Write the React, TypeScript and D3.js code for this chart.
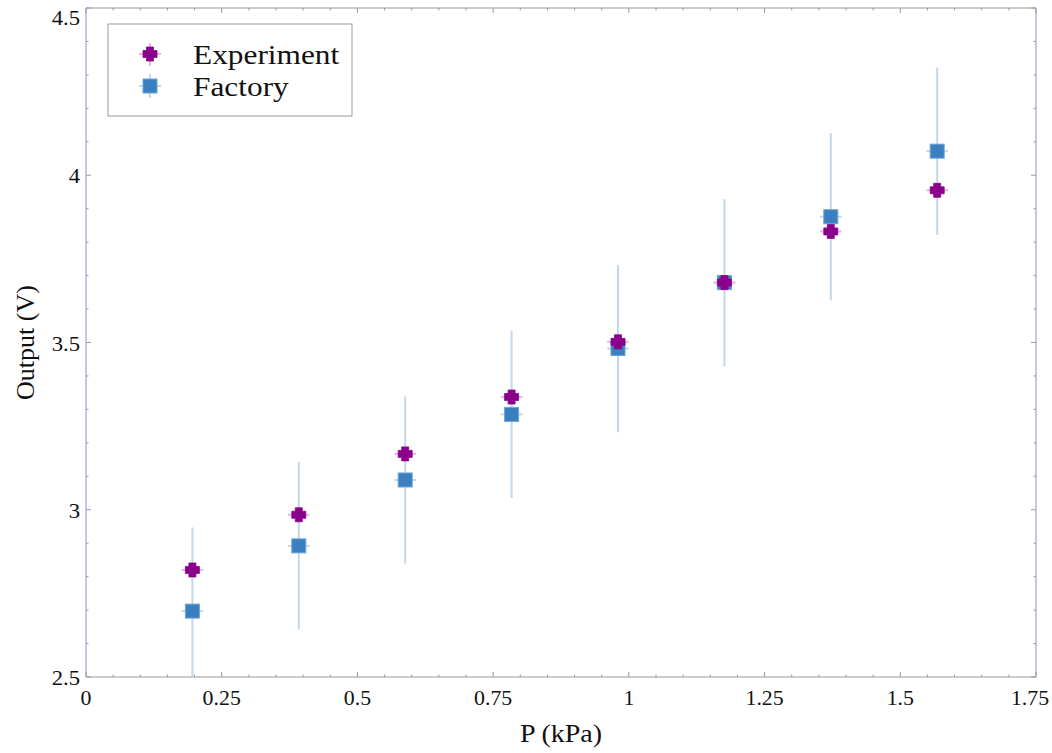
import React from "react";
import * as d3 from "d3";

const pressure = [0.196, 0.392, 0.588, 0.784, 0.98, 1.176, 1.372, 1.568];
const experiment = [2.82, 2.985, 3.167, 3.337, 3.502, 3.679, 3.832, 3.955];
const factory = [2.697, 2.892, 3.089, 3.285, 3.482, 3.679, 3.876, 4.072];
const factoryErrY = [0.25, 0.25, 0.25, 0.25, 0.25, 0.25, 0.25, 0.25];
const errX = [0.02, 0.02, 0.02, 0.02, 0.02, 0.02, 0.02, 0.02];
const expErrY = [0.005, 0.005, 0.005, 0.005, 0.005, 0.005, 0.005, 0.005];
const xTicks = [0, 0.25, 0.5, 0.75, 1, 1.25, 1.5, 1.75];
const xTickLabels = ["0", "0.25", "0.5", "0.75", "1", "1.25", "1.5", "1.75"];
const yTicks = [2.5, 3, 3.5, 4, 4.5];
const yTickLabels = ["2.5", "3", "3.5", "4", "4.5"];
const seriesNames = ["Experiment", "Factory"];

const W = 1052, H = 753;
const L = 86, R = 1036, T = 8, B = 677;
const font = "'Liberation Serif', 'Times New Roman', serif";
const SX = 1.12;

function Cross({ cx, cy, s = 14, t = 7, fill }: { cx: number; cy: number; s?: number; t?: number; fill: string }) {
  const h = s / 2, a = t / 2;
  const d = `M${cx - a},${cy - h}H${cx + a}V${cy - a}H${cx + h}V${cy + a}H${cx + a}V${cy + h}H${cx - a}V${cy + a}H${cx - h}V${cy - a}H${cx - a}Z`;
  return <path d={d} fill={fill} stroke={fill} strokeWidth={0.8} strokeLinejoin="round" />;
}

function T2({ x, y, anchor = "start", size, sx = SX, children }: { x: number; y: number; anchor?: string; size: number; sx?: number; children: React.ReactNode }) {
  return (
    <text transform={`translate(${x},${y}) scale(${sx},1)`} textAnchor={anchor as any} fontFamily={font} fontSize={size} fill="#111">
      {children}
    </text>
  );
}

export default function App() {
  const x = d3.scaleLinear().domain([0, 1.75]).range([L, R]);
  const y = d3.scaleLinear().domain([2.5, 4.5]).range([B, T]);
  const xMinor = d3.range(0, 1.7501, 0.05);
  const yMinor = d3.range(2.5, 4.5001, 0.1);
  const purple = "#8b008b";
  const blue = "#3a7fbf";
  const blueErr = "#c3d7ec";
  const pinkErr = "#e6b6e6";
  const axisBlue = "#a0a0dc";
  const gray = "#9a9a9a";

  return (
    <svg width={W} height={H} style={{ display: "block", position: "absolute", left: 0, top: 0 }}>
      <rect x={0} y={0} width={W} height={H} fill="#fff" />
      <defs>
        <clipPath id="plot">
          <rect x={L} y={T} width={R - L} height={B - T} />
        </clipPath>
      </defs>
      {/* frame */}
      <line x1={L} x2={R} y1={T} y2={T} stroke={gray} strokeWidth={1.2} />
      <line x1={L} x2={R} y1={B} y2={B} stroke={gray} strokeWidth={1.2} />
      <line x1={L} x2={L} y1={T} y2={B} stroke={axisBlue} strokeWidth={1.2} />
      <line x1={R} x2={R} y1={T} y2={B} stroke={axisBlue} strokeWidth={1.2} />
      {/* ticks */}
      {xMinor.map((v, i) => {
        const major = i % 5 === 0;
        const len = major ? 5 : 2.5;
        return (
          <g key={"xt" + i}>
            <line x1={x(v)} x2={x(v)} y1={B} y2={B - len} stroke={gray} strokeWidth={1} />
            <line x1={x(v)} x2={x(v)} y1={T} y2={T + len} stroke={gray} strokeWidth={1} />
          </g>
        );
      })}
      {yMinor.map((v, i) => {
        const major = i % 5 === 0;
        const len = major ? 5 : 2.5;
        return (
          <g key={"yt" + i}>
            <line x1={L} x2={L + len} y1={y(v)} y2={y(v)} stroke={gray} strokeWidth={1} />
            <line x1={R} x2={R - len} y1={y(v)} y2={y(v)} stroke={gray} strokeWidth={1} />
          </g>
        );
      })}
      {xTicks.map((v, i) => (
        <T2 key={"xl" + i} x={Math.min(x(v), 1030)} y={B + 28} anchor="middle" size={21} sx={1.04}>
          {xTickLabels[i]}
        </T2>
      ))}
      {yTicks.map((v, i) => (
        <T2 key={"yl" + i} x={L - 6} y={Math.max(y(v) + 8, 25)} anchor="end" size={21} sx={1.08}>
          {yTickLabels[i]}
        </T2>
      ))}
      <T2 x={(L + R) / 2} y={742} anchor="middle" size={25}>
        P (kPa)
      </T2>
      <text transform={`translate(34,${(T + B) / 2}) rotate(-90)`} textAnchor="middle" fontFamily={font} fontSize={26} fill="#111">
        Output (V)
      </text>
      {/* data */}
      <g clipPath="url(#plot)">
        {pressure.map((p, i) => (
          <g key={"fe" + i}>
            <line x1={x(p)} x2={x(p)} y1={y(factory[i] - factoryErrY[i])} y2={y(factory[i] + factoryErrY[i])} stroke={blueErr} strokeWidth={2} />
            <line x1={x(p - errX[i])} x2={x(p + errX[i])} y1={y(factory[i])} y2={y(factory[i])} stroke={blueErr} strokeWidth={2} />
          </g>
        ))}
        {pressure.map((p, i) => (
          <g key={"ee" + i}>
            <line x1={x(p)} x2={x(p)} y1={y(experiment[i] - expErrY[i])} y2={y(experiment[i] + expErrY[i])} stroke={pinkErr} strokeWidth={2} />
            <line x1={x(p - errX[i])} x2={x(p + errX[i])} y1={y(experiment[i])} y2={y(experiment[i])} stroke={pinkErr} strokeWidth={2} />
          </g>
        ))}
        {pressure.map((p, i) => (
          <rect key={"fs" + i} x={x(p) - 7} y={y(factory[i]) - 7} width={14} height={14} fill={blue} stroke="#6fa3d6" strokeWidth={1} />
        ))}
        {pressure.map((p, i) => (
          <Cross key={"ec" + i} cx={x(p)} cy={y(experiment[i])} fill={purple} />
        ))}
      </g>
      {/* legend */}
      <rect x={108} y={24} width={244} height={92} fill="#fff" stroke={gray} strokeWidth={1} />
      <line x1={150} x2={150} y1={43} y2={66} stroke={pinkErr} strokeWidth={2} />
      <line x1={139} x2={161} y1={54} y2={54} stroke={pinkErr} strokeWidth={2} />
      <Cross cx={150} cy={54} fill={purple} />
      <line x1={150} x2={150} y1={74} y2={98} stroke={blueErr} strokeWidth={2} />
      <line x1={139} x2={161} y1={86} y2={86} stroke={blueErr} strokeWidth={2} />
      <rect x={143} y={79} width={14} height={14} fill={blue} stroke="#6fa3d6" strokeWidth={1} />
      <T2 x={193} y={64} size={28}>{seriesNames[0]}</T2>
      <T2 x={193} y={96} size={28}>{seriesNames[1]}</T2>
    </svg>
  );
}
